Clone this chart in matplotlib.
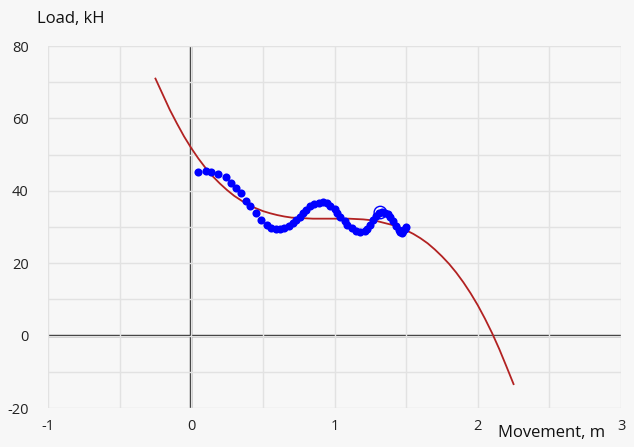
import matplotlib
matplotlib.use("Agg")
import matplotlib.pyplot as plt
from matplotlib.ticker import MultipleLocator, FixedLocator

plt.rcParams['font.family'] = ['Open Sans', 'DejaVu Sans']
plt.rcParams['axes.unicode_minus'] = False

# Measured load vs. movement
move_m = [0.05, 0.10, 0.14, 0.19, 0.24, 0.28, 0.31, 0.35, 0.38, 0.41, 0.45, 0.49,
          0.53, 0.56, 0.59, 0.62, 0.65, 0.68, 0.71, 0.73, 0.76, 0.78, 0.80, 0.83,
          0.86, 0.89, 0.92, 0.95, 0.97, 1.00, 1.02, 1.04, 1.07, 1.09, 1.12, 1.15,
          1.18, 1.21, 1.23, 1.25, 1.27, 1.29, 1.31, 1.33, 1.35, 1.37, 1.39, 1.41,
          1.43, 1.45, 1.46, 1.47, 1.48, 1.49, 1.50]
load_kh = [45.2, 45.4, 45.1, 44.6, 43.8, 42.2, 40.7, 39.3, 37.3, 35.8, 33.8, 31.8,
           30.6, 29.8, 29.5, 29.4, 29.6, 30.2, 31.0, 31.8, 32.8, 33.9, 34.8, 35.7,
           36.3, 36.7, 36.8, 36.5, 35.9, 35.0, 34.0, 32.8, 31.6, 30.6, 29.6, 28.9,
           28.6, 28.8, 29.5, 30.6, 31.8, 33.0, 33.9, 34.2, 34.0, 33.5, 32.7, 31.6,
           30.4, 29.2, 28.5, 28.4, 28.8, 29.4, 30.0]

# Highlighted point
sel_move = [1.32]
sel_load = [34.0]

# Trend curve
trend_x = [-0.25, -0.20, -0.15, -0.10, -0.05, 0.00, 0.05, 0.10, 0.15, 0.20,
           0.25, 0.30, 0.35, 0.40, 0.45, 0.50, 0.55, 0.60, 0.65, 0.70, 0.75,
           0.80, 0.85, 0.90, 0.95, 1.00, 1.05, 1.10, 1.15, 1.20, 1.25, 1.30,
           1.35, 1.40, 1.45, 1.50, 1.55, 1.60, 1.65, 1.70, 1.75, 1.80, 1.85,
           1.90, 1.95, 2.00, 2.05, 2.10, 2.15, 2.20, 2.25]
trend_y = [71.0, 66.7, 62.4, 58.6, 55.0, 51.8, 48.9, 46.3, 44.0, 42.0,
           40.2, 38.6, 37.3, 36.1, 35.2, 34.4, 33.8, 33.3, 32.9, 32.6, 32.5,
           32.4, 32.3, 32.3, 32.3, 32.3, 32.3, 32.3, 32.2, 32.1, 31.9, 31.6,
           31.1, 30.6, 29.9, 29.1, 28.1, 26.9, 25.5, 23.8, 21.9, 19.8, 17.4,
           14.7, 11.7, 8.4, 4.7, 0.7, -3.7, -8.5, -13.4]

x_ticks = [-1, 0, 1, 2, 3]
y_ticks = [-20, 0, 20, 40, 60, 80]

bg = '#f7f7f7'
fig = plt.figure(figsize=(6.34, 4.47), dpi=100, facecolor=bg)
ax = fig.add_axes([48/634, 1-408/447, (621-48)/634, (408-46)/447])
ax.set_facecolor(bg)

ax.set_xlim(-1, 3)
ax.set_ylim(-20, 80)
ax.xaxis.set_major_locator(FixedLocator(x_ticks))
ax.yaxis.set_major_locator(FixedLocator(y_ticks))
ax.xaxis.set_minor_locator(MultipleLocator(0.5))
ax.yaxis.set_minor_locator(MultipleLocator(10))
ax.grid(True, which='both', color='#e2e2e2', linewidth=1.0, zorder=0)
for s in ax.spines.values():
    s.set_visible(False)
ax.tick_params(which='both', length=0)
ax.tick_params(axis='x', pad=8, labelsize=10.5, labelcolor='#222222')
ax.tick_params(axis='y', pad=14, labelsize=10.5, labelcolor='#222222')
ax.set_xticklabels([str(v) for v in x_ticks])
ax.set_yticklabels([str(v) for v in y_ticks])

ax.axhline(0, color='#222222', linewidth=1.7, zorder=1)
ax.axvline(0, color='#222222', linewidth=1.7, zorder=1)

ax.plot(trend_x, trend_y, color='#b22222', linewidth=1.3, zorder=3)
ax.scatter(move_m, load_kh, s=34, color='#0000ff', linewidths=0, zorder=4)
ax.scatter(sel_move, sel_load, s=80, facecolors='none', edgecolors='#0000ff',
           linewidths=1.0, zorder=5)

fig.text(37/634, 1-19/447, 'Load, kH', fontsize=12, color='#111111',
         ha='left', va='center')
fig.text(605/634, 1-433/447, 'Movement, m', fontsize=12, color='#111111',
         ha='right', va='center')

fig.savefig('out.png', dpi=100, facecolor=bg)
